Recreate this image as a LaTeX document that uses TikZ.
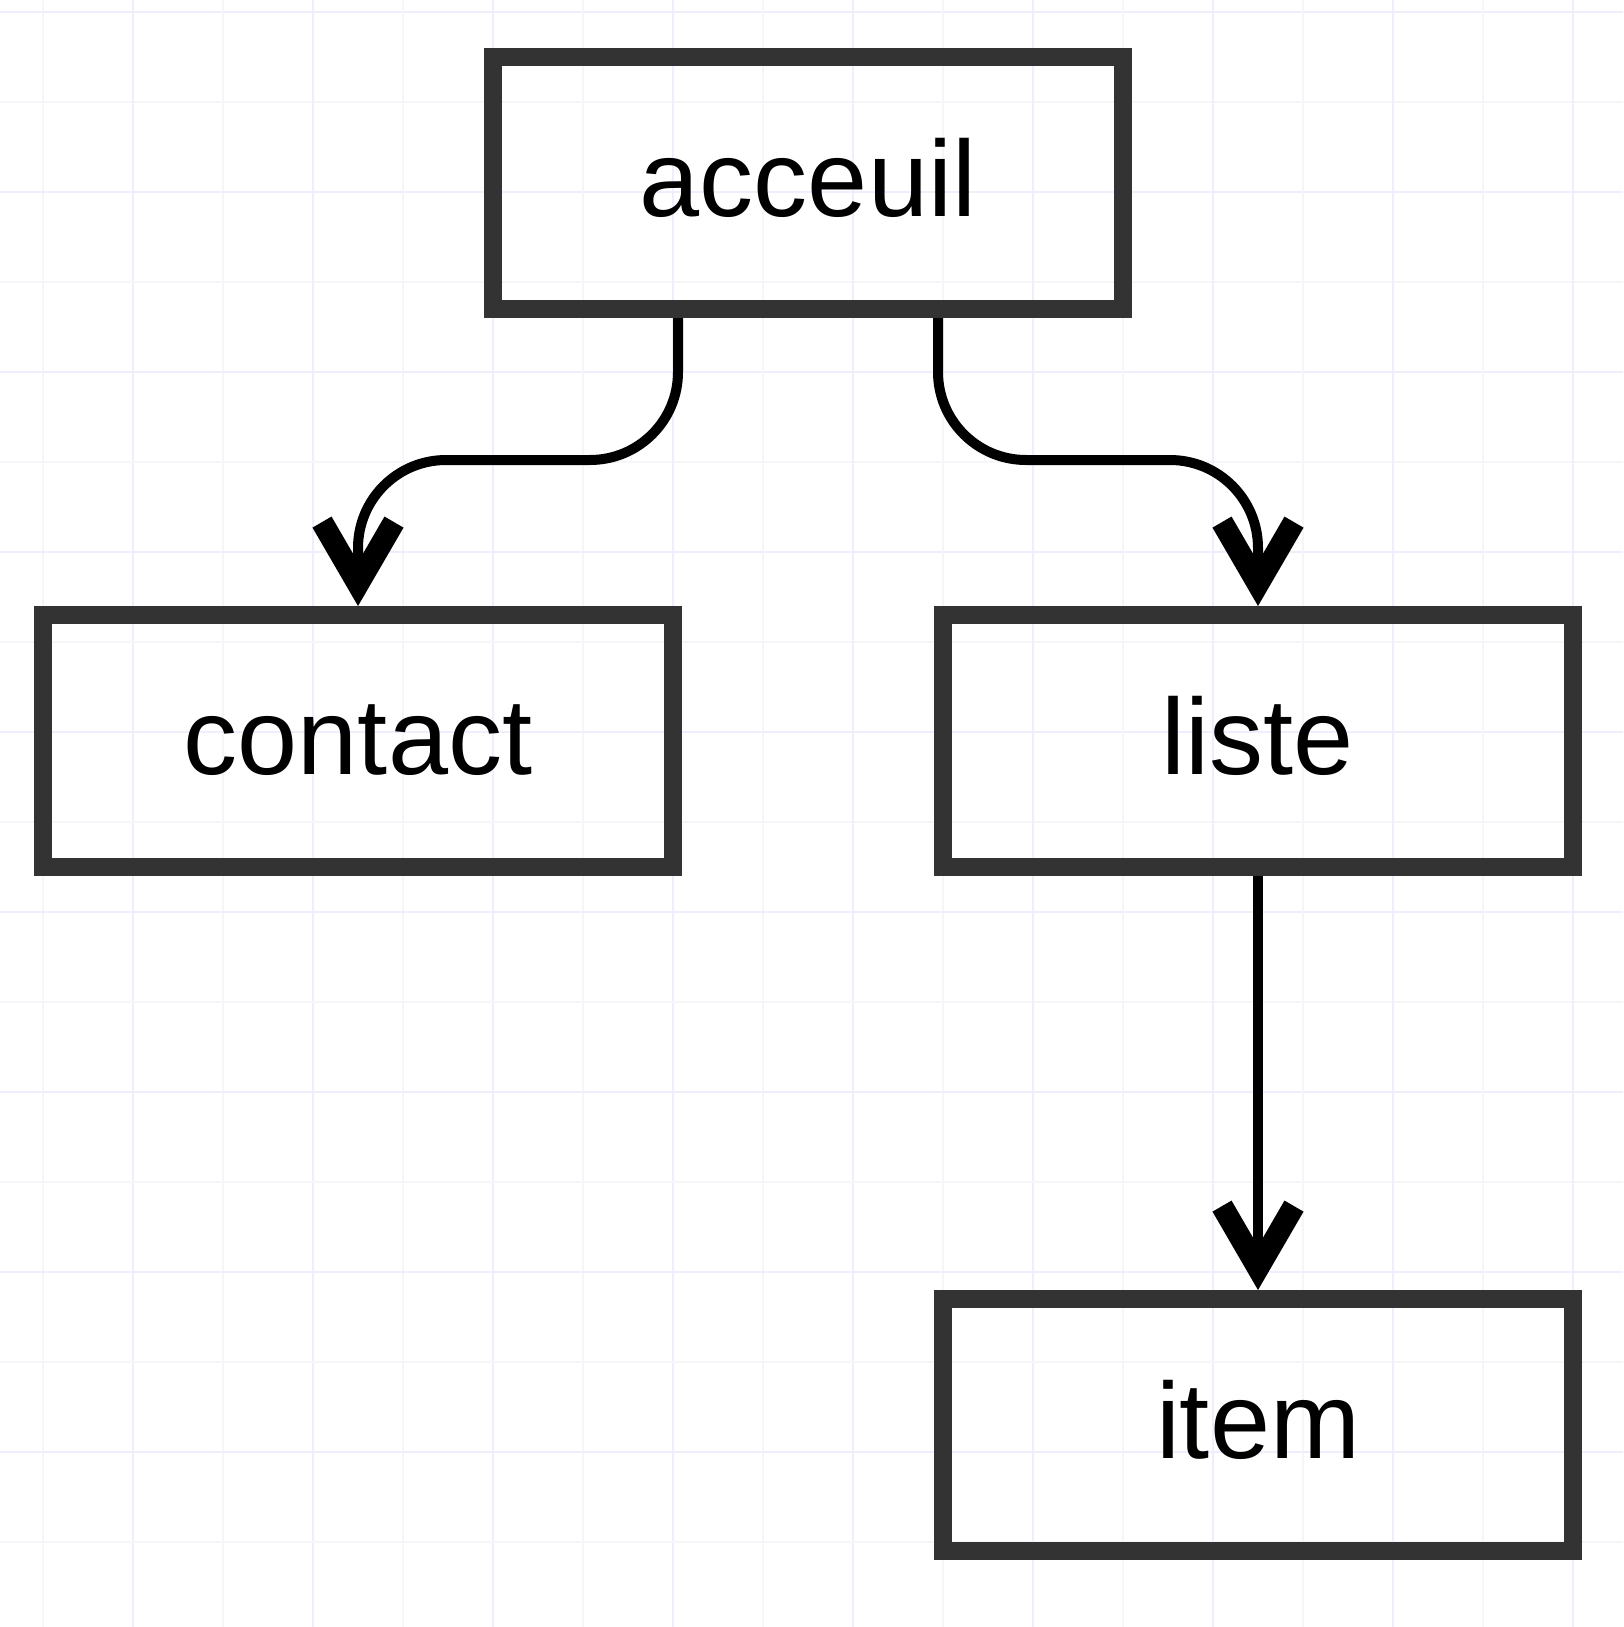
\documentclass[tikz,border=0pt]{standalone}
\usepackage{fontspec}
\setmainfont{Liberation Sans}
\usetikzlibrary{arrows.meta,positioning}
\definecolor{boxline}{HTML}{333333}
\definecolor{gridmajor}{HTML}{EEEEFD}
\definecolor{gridminor}{HTML}{F6F6FA}

\begin{document}
\begin{tikzpicture}[
  x=0.5pt,y=-0.5pt,
  page/.style={draw=boxline,line width=9pt,minimum width=315pt,minimum height=126pt,inner sep=0pt,font=\fontsize{54}{60}\selectfont,text height=33pt,text depth=0pt},
  link/.style={-{Straight Barb[length=31pt,width=36pt,line width=11pt]},line width=5pt,rounded corners=44pt}
]
\useasboundingbox (0,0) rectangle (1623,1627);
% background grid
\foreach \k in {0,...,8} {
  \draw[gridminor,line width=0.75pt] (43+180*\k,0) -- (43+180*\k,1627);
  \draw[gridminor,line width=0.75pt] (0,102+180*\k) -- (1623,102+180*\k);
  \draw[gridmajor,line width=0.75pt] (133+180*\k,0) -- (133+180*\k,1627);
  \draw[gridmajor,line width=0.75pt] (0,12+180*\k) -- (1623,12+180*\k);
}
\node[page] (acceuil) at (808,183) {acceuil};
\node[page] (contact) at (358,741) {contact};
\node[page] (liste) at (1258,741) {liste};
\node[page,below=207pt of liste] (item) {item};
\draw[link] ([xshift=-65pt]acceuil.south) -- ++(0,142) -| (contact.north);
\draw[link] ([xshift=65pt]acceuil.south) -- ++(0,142) -| (liste.north);
\draw[link] (liste) -- (item);
\end{tikzpicture}
\end{document}
